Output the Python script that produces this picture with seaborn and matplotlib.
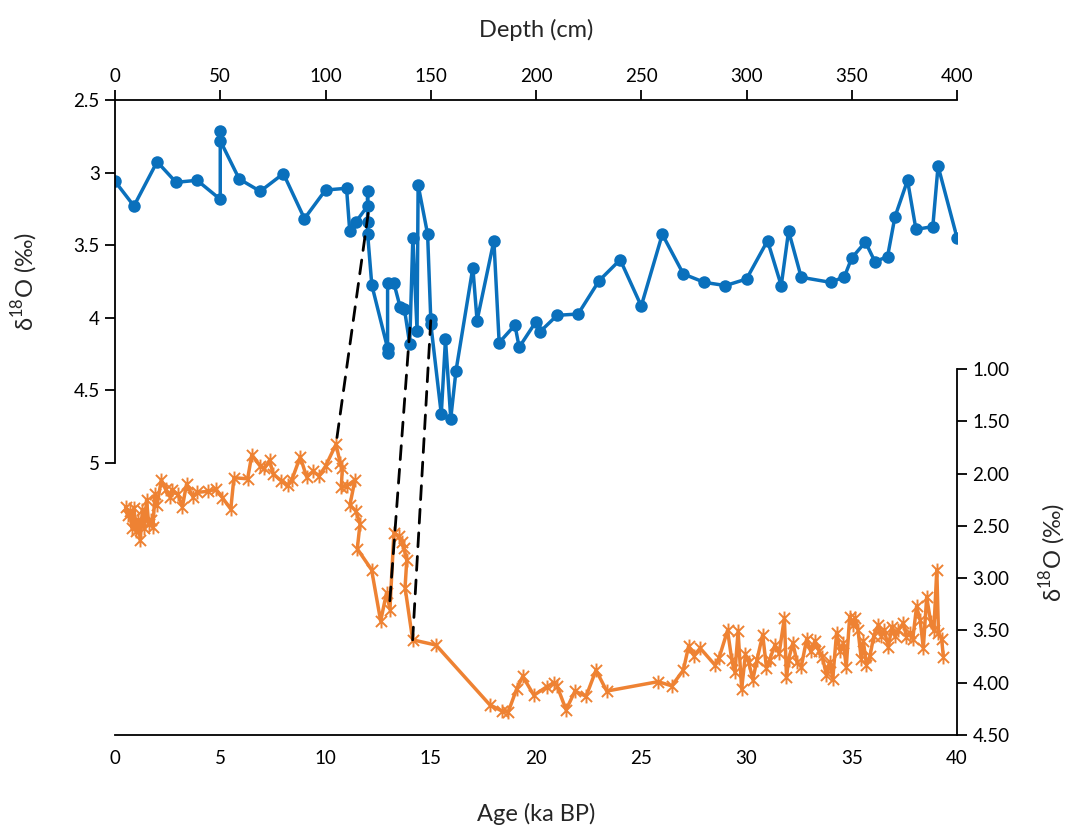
import numpy as np
import pandas as pd
import matplotlib
matplotlib.use("Agg")
import matplotlib.pyplot as plt
from matplotlib.path import Path
from matplotlib.patches import ConnectionPatch
from matplotlib.ticker import FuncFormatter
import seaborn as sns

# ---------------- data ----------------
depth_cm = [0, 9, 20, 29, 39, 50, 50, 50, 59, 69, 80, 90, 100, 110, 111.5, 114.5,
            120, 120, 120, 120, 122, 129.5, 129.5, 129.5, 132.5, 135.5, 137.5, 140,
            141.5, 143.5, 144, 148.5, 150, 150, 155, 157, 159.5, 162, 170, 172, 180,
            182.5, 190, 192, 200, 202, 210, 220, 230, 240, 250, 260, 270, 280, 290,
            300, 310, 316.5, 320, 326, 340, 346.5, 350, 356.5, 361, 367, 370.5,
            376.5, 380.5, 388.5, 391, 400]
core_d18o = [3.06, 3.23, 2.925, 3.067, 3.053, 3.184, 2.713, 2.78, 3.044, 3.129, 3.007,
             3.317, 3.12, 3.108, 3.40, 3.338, 3.23, 3.13, 3.34, 3.42, 3.774, 4.21,
             4.24, 3.762, 3.762, 3.928, 3.94, 4.18, 3.447, 4.09, 3.085, 3.423, 4.006,
             4.04, 4.663, 4.148, 4.694, 4.364, 3.655, 4.019, 3.469, 4.171, 4.05, 4.203,
             4.026, 4.095, 3.983, 3.974, 3.744, 3.60, 3.919, 3.425, 3.698, 3.756,
             3.778, 3.733, 3.469, 3.778, 3.402, 3.721, 3.756, 3.717, 3.588, 3.478,
             3.613, 3.579, 3.306, 3.053, 3.391, 3.372, 2.955, 3.448]

age_ka = [0.5, 0.6, 0.7, 0.8, 0.9, 1.0, 1.1, 1.2, 1.3, 1.4, 1.5, 1.6, 1.7, 1.8, 1.9,
          2.0, 2.2, 2.4, 2.6, 2.7, 3.0, 3.2, 3.4, 3.7, 3.9, 4.4, 4.8, 5.1, 5.5, 5.65,
          6.3, 6.5, 6.9, 7.1, 7.35, 7.5, 7.9, 8.2, 8.4, 8.8, 9.1, 9.4, 9.7, 10.0,
          10.5, 10.7, 10.8, 10.75, 11.0, 11.4, 11.16, 11.45, 11.64, 11.51, 12.19,
          12.62, 12.9, 13.06, 13.25, 13.5, 13.62, 13.73, 13.86, 13.78, 14.14, 15.25,
          17.8, 18.37, 18.68, 19.08, 19.37, 19.9, 20.5, 20.85, 21.0, 21.43, 21.85,
          22.38, 22.85, 23.36, 25.8, 26.45, 27.0, 27.25, 27.5, 27.8, 28.5, 28.7,
          29.1, 29.3, 29.45, 29.6, 29.77, 29.95, 30.1, 30.3, 30.5, 30.77, 30.95,
          31.1, 31.35, 31.55, 31.8, 31.9, 32.0, 32.2, 32.4, 32.6, 32.86, 33.05,
          33.25, 33.45, 33.6, 33.8, 33.95, 34.1, 34.28, 34.45, 34.6, 34.74, 34.9,
          35.05, 35.15, 35.3, 35.45, 35.55, 35.7, 35.87, 36.05, 36.26, 36.4, 36.55,
          36.74, 36.9, 37.05, 37.2, 37.45, 37.6, 37.75, 37.9, 38.08, 38.25, 38.4,
          38.56, 38.75, 38.9, 39.04, 39.12, 39.27, 39.35]
ref_d18o = [2.32, 2.40, 2.36, 2.52, 2.33, 2.55, 2.44, 2.64, 2.35, 2.52, 2.25, 2.48,
            2.44, 2.51, 2.20, 2.30, 2.06, 2.15, 2.22, 2.16, 2.20, 2.32, 2.10, 2.22,
            2.18, 2.17, 2.15, 2.23, 2.34, 2.04, 2.05, 1.82, 1.93, 1.95, 1.87, 2.00,
            2.07, 2.11, 2.06, 1.84, 2.03, 1.98, 2.02, 1.93, 1.72, 1.90, 1.95, 2.13,
            2.12, 2.06, 2.30, 2.36, 2.48, 2.72, 2.92, 3.41, 3.14, 3.30, 2.57, 2.60,
            2.65, 2.71, 2.83, 3.09, 3.59, 3.64, 4.21, 4.27, 4.28, 4.06, 3.94, 4.12,
            4.04, 4.00, 4.03, 4.26, 4.08, 4.13, 3.88, 4.08, 3.99, 4.03, 3.88, 3.65,
            3.74, 3.67, 3.83, 3.76, 3.50, 3.78, 3.90, 3.51, 4.06, 3.73, 3.80, 3.97,
            3.78, 3.54, 3.86, 3.78, 3.64, 3.72, 3.38, 3.95, 3.78, 3.62, 3.80, 3.85,
            3.58, 3.70, 3.60, 3.70, 3.75, 3.93, 3.80, 3.96, 3.52, 3.70, 3.62, 3.85,
            3.37, 3.45, 3.38, 3.50, 3.77, 3.60, 3.83, 3.74, 3.55, 3.45, 3.55, 3.50,
            3.66, 3.47, 3.55, 3.50, 3.43, 3.56, 3.52, 3.58, 3.27, 3.40, 3.67, 3.18,
            3.42, 3.50, 2.92, 3.52, 3.58, 3.75]

# tie points: (depth cm, core value) -> (age ka, reference value)
tie_depth = [120.3, 140.1, 150.0]
tie_core = [3.28, 4.07, 4.02]
tie_age = [10.5, 13.03, 14.14]
tie_ref = [1.72, 3.29, 3.59]

depth_ticks = list(range(0, 401, 50))
core_ticks = [2.5, 3, 3.5, 4, 4.5, 5]
age_ticks = list(range(0, 41, 5))
ref_ticks = [1.0, 1.5, 2.0, 2.5, 3.0, 3.5, 4.0, 4.5]

# ---------------- style ----------------
sns.set_theme(style="white")
plt.rcParams["font.family"] = ["Lato", "DejaVu Sans"]
plt.rcParams["mathtext.fontset"] = "custom"
plt.rcParams["mathtext.rm"] = "Lato"

BLUE = "#0A70BC"
ORANGE = "#EE8233"
TICK_FS = 13.5
LAB_FS = 17

W, H = 1066, 830
fig = plt.figure(figsize=(W / 100, H / 100), dpi=100)
fig.patch.set_facecolor("white")

def frac(x0, y0, x1, y1):
    return [x0 / W, 1 - y1 / H, (x1 - x0) / W, (y1 - y0) / H]

ax_bot = fig.add_axes(frac(115, 369, 957, 735))
ax_top = fig.add_axes(frac(115, 100, 957, 463))
for a in (ax_top, ax_bot):
    a.set_facecolor("none")
    a.grid(False)

# ---- core series (top axes) ----
df_core = pd.DataFrame({"depth": depth_cm, "d18o": core_d18o})
sns.lineplot(data=df_core, x="depth", y="d18o", ax=ax_top, sort=False,
             estimator=None, color=BLUE, linewidth=2.5, marker="o",
             markersize=9, markeredgewidth=0, markerfacecolor=BLUE)
ax_top.set_xlim(0, 400)
ax_top.set_ylim(5, 2.5)
ax_top.set_xticks(depth_ticks)
ax_top.set_yticks(core_ticks)
ax_top.yaxis.set_major_formatter(FuncFormatter(lambda v, p: f"{v:g}"))
ax_top.xaxis.tick_top()
ax_top.xaxis.set_label_position("top")
for s in ("bottom", "right"):
    ax_top.spines[s].set_visible(False)
for s in ("top", "left"):
    ax_top.spines[s].set_color("black")
    ax_top.spines[s].set_linewidth(1.3)
ax_top.tick_params(axis="both", direction="out", length=7, width=1.3,
                   colors="black", labelsize=TICK_FS, pad=4)
ax_top.tick_params(axis="x", bottom=False, top=True, labelbottom=False, labeltop=True)
ax_top.tick_params(axis="y", left=True, right=False)
ax_top.set_xlabel("Depth (cm)", fontsize=LAB_FS, labelpad=22)
ax_top.set_ylabel(r"δ$^{\mathregular{18}}$O (‰)", fontsize=LAB_FS, labelpad=24)

# ---- reference series (bottom axes) ----
star = Path([(-1, -1), (1, 1), (-1, 1), (1, -1), (0, -1.25), (0, 1.25)],
            [Path.MOVETO, Path.LINETO] * 3)
df_ref = pd.DataFrame({"age": age_ka, "d18o": ref_d18o})
sns.lineplot(data=df_ref, x="age", y="d18o", ax=ax_bot, sort=False,
             estimator=None, color=ORANGE, linewidth=2.5, marker=star,
             markersize=10, markeredgewidth=1.4, markeredgecolor=ORANGE,
             markerfacecolor="none")
ax_bot.set_xlim(0, 40)
ax_bot.set_ylim(4.5, 1.0)
ax_bot.set_xticks(age_ticks)
ax_bot.set_yticks(ref_ticks)
ax_bot.yaxis.set_major_formatter(FuncFormatter(lambda v, p: f"{v:.2f}"))
ax_bot.yaxis.tick_right()
ax_bot.yaxis.set_label_position("right")
for s in ("top", "left"):
    ax_bot.spines[s].set_visible(False)
for s in ("bottom", "right"):
    ax_bot.spines[s].set_color("black")
    ax_bot.spines[s].set_linewidth(1.3)
ax_bot.tick_params(axis="both", direction="out", length=7, width=1.3,
                   colors="black", labelsize=TICK_FS, pad=4)
ax_bot.tick_params(axis="y", left=False, right=True, labelleft=False, labelright=True)
ax_bot.set_xlabel("Age (ka BP)", fontsize=LAB_FS, labelpad=26)
ax_bot.set_ylabel(r"δ$^{\mathregular{18}}$O (‰)", fontsize=LAB_FS, labelpad=20,
                  rotation=90)

# ---- tie lines ----
for d, c, a, r in zip(tie_depth, tie_core, tie_age, tie_ref):
    con = ConnectionPatch(xyA=(d, c), coordsA=ax_top.transData,
                          xyB=(a, r), coordsB=ax_bot.transData,
                          color="black", linewidth=2.0, linestyle=(0, (5, 3.5)),
                          zorder=5)
    fig.add_artist(con)

fig.savefig("out.png", dpi=100, facecolor="white")
